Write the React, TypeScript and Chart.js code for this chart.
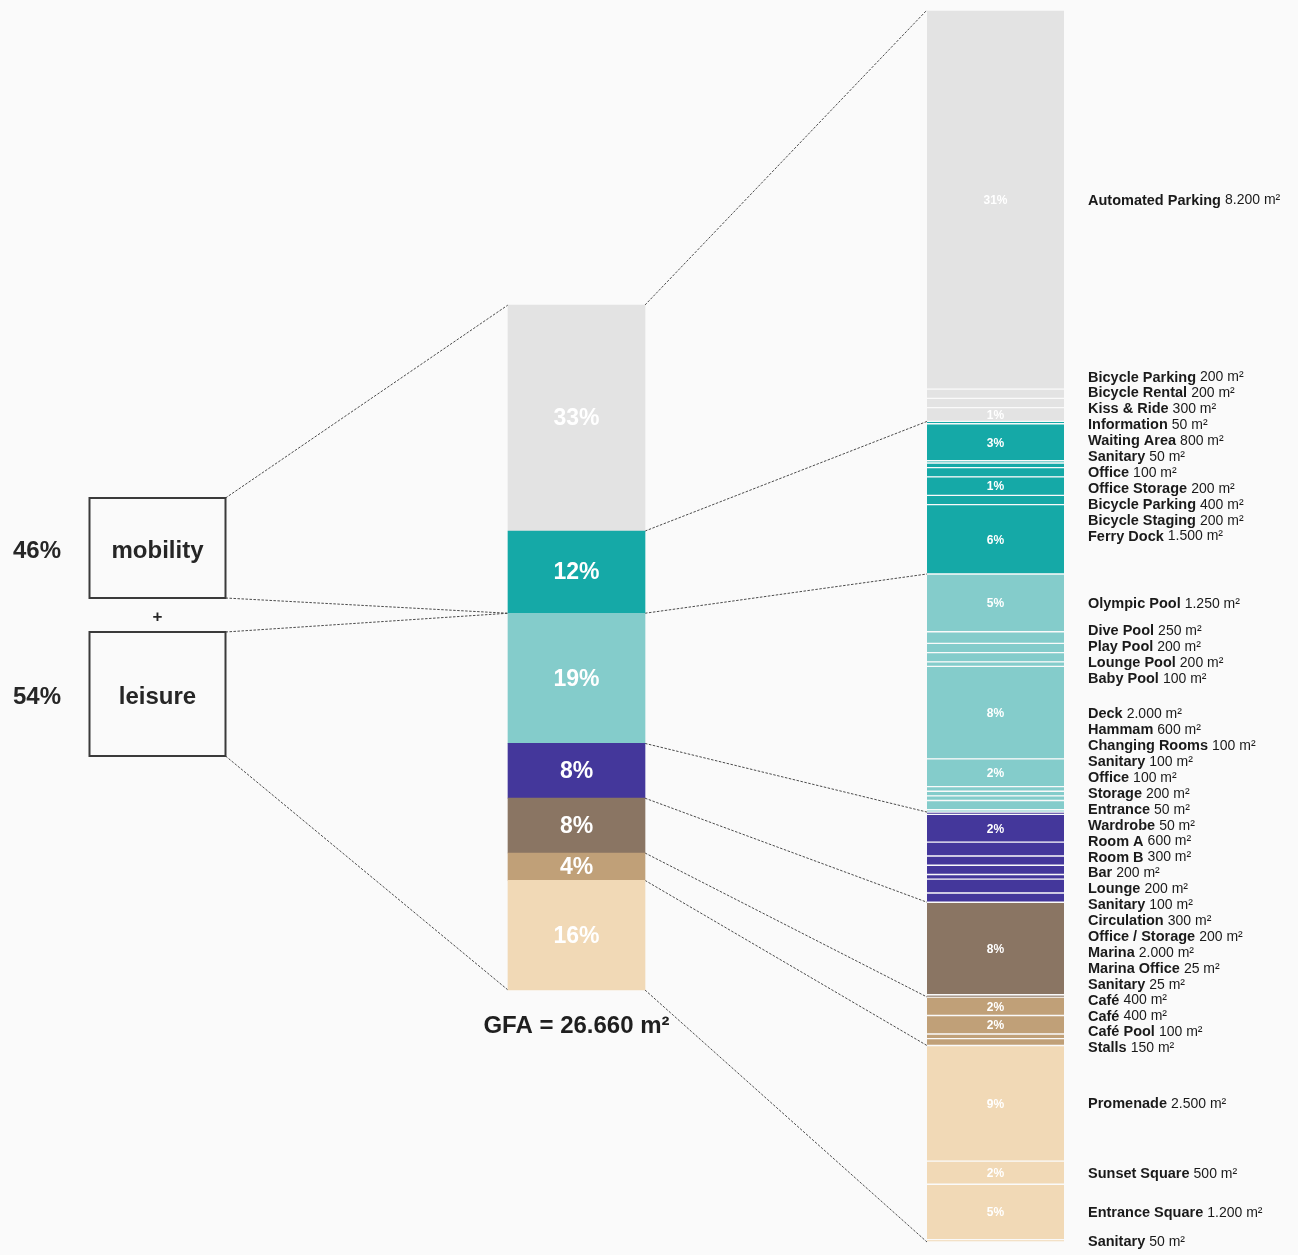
import React, { useEffect, useRef } from "react";
import { Chart, registerables } from "chart.js";

Chart.register(...registerables);

// ---------------- data ----------------
const groupNames = ["Automated parking", "Mobility hub", "Pools", "Club", "Marina", "Cafés", "Public space"];
const groupPercents = [33, 12, 19, 8, 8, 4, 16];
const groupColors = ["#e3e3e3", "#15a9a7", "#84cccb", "#44379b", "#8a7563", "#c0a078", "#f1d9b6"];

const summaryNames = ["mobility", "leisure"];
const summaryPercents = [46, 54];
const summaryGroupCounts = [2, 5];

const gfaTotal = 26660;

const detailNames = [
  "Automated Parking", "Bicycle Parking", "Bicycle Rental", "Kiss & Ride",
  "Information", "Waiting Area", "Sanitary", "Office", "Office Storage", "Bicycle Parking", "Bicycle Staging", "Ferry Dock",
  "Olympic Pool", "Dive Pool", "Play Pool", "Lounge Pool", "Baby Pool", "Deck", "Hammam", "Changing Rooms", "Sanitary", "Office", "Storage", "Entrance",
  "Wardrobe", "Room A", "Room B", "Bar", "Lounge", "Sanitary", "Circulation", "Office / Storage",
  "Marina", "Marina Office", "Sanitary",
  "Café", "Café", "Café Pool", "Stalls",
  "Promenade", "Sunset Square", "Entrance Square", "Sanitary",
];
const detailAreas = [
  8200, 200, 200, 300,
  50, 800, 50, 100, 200, 400, 200, 1500,
  1250, 250, 200, 200, 100, 2000, 600, 100, 100, 100, 200, 50,
  50, 600, 300, 200, 200, 100, 300, 200,
  2000, 25, 25,
  400, 400, 100, 150,
  2500, 500, 1200, 50,
];
const detailGroups = [
  0, 0, 0, 0,
  1, 1, 1, 1, 1, 1, 1, 1,
  2, 2, 2, 2, 2, 2, 2, 2, 2, 2, 2, 2,
  3, 3, 3, 3, 3, 3, 3, 3,
  4, 4, 4,
  5, 5, 5, 5,
  6, 6, 6, 6,
];
const detailPercentLabels = [
  "31%", "", "", "1%",
  "", "3%", "", "", "", "1%", "", "6%",
  "5%", "", "", "", "", "8%", "2%", "", "", "", "", "",
  "", "2%", "", "", "", "", "", "",
  "8%", "", "",
  "2%", "2%", "", "",
  "9%", "2%", "5%", "",
];

// ---------------- layout ----------------
const W = 1298;
const H = 1255;
const BG = "#fafafa";
const FONT = '"Liberation Sans", Arial, Helvetica, sans-serif';
const X_MID_PX = 576.5;
const X_DET_PX = 995.5;
const BAR_W = 137;
const MID_TOP = 305;
const MID_BOTTOM = 990;
const DET_TOP = 10;
const DET_BOTTOM = 1242;
const BOX_W = 136;
const BOX_V = [
  { top: 498, bottom: 598 },
  { top: 632, bottom: 756 },
];
const LABEL_X = 1088;
const LABEL_STEP = 15.9;
const LABEL_MERGE = 1.5;

const fmt = (n: number) => n.toString().replace(/\B(?=(\d{3})+(?!\d))/g, ".");

function cumulative(values: number[]): number[] {
  const out = [0];
  values.forEach((v) => out.push(out[out.length - 1] + v));
  return out;
}

// weighted least-squares cluster layout so labels do not overlap
function layoutLabels(desired: number[], weights: number[], gap: number): number[] {
  const clusters: { n: number; sw: number; swAdj: number }[] = [];
  desired.forEach((d, i) => {
    const w = weights[i];
    clusters.push({ n: 1, sw: w, swAdj: w * d });
    while (clusters.length > 1) {
      const b = clusters[clusters.length - 1];
      const a = clusters[clusters.length - 2];
      const aTop = a.swAdj / a.sw;
      const bTop = b.swAdj / b.sw;
      if (aTop + (a.n - 1) * gap + LABEL_MERGE * gap > bTop) {
        a.swAdj = a.swAdj + b.swAdj - a.n * gap * b.sw;
        a.sw += b.sw;
        a.n += b.n;
        clusters.pop();
      } else break;
    }
  });
  const pos: number[] = [];
  clusters.forEach((c) => {
    const top = c.swAdj / c.sw;
    for (let j = 0; j < c.n; j++) pos.push(top + j * gap);
  });
  return pos;
}

export default function App() {
  const ref = useRef<HTMLCanvasElement>(null);

  useEffect(() => {
    document.body.style.margin = "0";
    document.body.style.background = BG;
    document.body.style.overflow = "hidden";

    const canvas = ref.current!;
    const groupCum = cumulative(groupPercents);
    const detailCum = cumulative(detailAreas);
    const detailTotal = detailCum[detailCum.length - 1];

    // area boundaries of groups in the detail bar
    const groupAreaCum: number[] = [0];
    groupPercents.forEach((_, g) => {
      const s = detailAreas.reduce((acc, a, i) => acc + (detailGroups[i] === g ? a : 0), 0);
      groupAreaCum.push(groupAreaCum[groupAreaCum.length - 1] + s);
    });

    // scale ranges so the chart area maps onto the page
    const xUnit = X_DET_PX - X_MID_PX;
    const xMin = 1 - X_MID_PX / xUnit;
    const xMax = xMin + W / xUnit;
    const pxPerPct = (MID_BOTTOM - MID_TOP) / 100;
    const yMidMin = -MID_TOP / pxPerPct;
    const yMidMax = yMidMin + H / pxPerPct;
    const pxPerM = (DET_BOTTOM - DET_TOP) / detailTotal;
    const yRMin = -DET_TOP / pxPerM;
    const yRMax = yRMin + H / pxPerM;

    const overlay = {
      id: "overlay",
      beforeDatasetsDraw(c: any) {
        const ctx: CanvasRenderingContext2D = c.ctx;
        const xs = c.scales.x;
        const ym = c.scales.yMid;
        const yr = c.scales.yR;
        const midL = xs.getPixelForValue(1) - BAR_W / 2;
        const midR = xs.getPixelForValue(1) + BAR_W / 2;
        const detL = xs.getPixelForValue(2) - BAR_W / 2;
        const boxR = xs.getPixelForValue(0) + BOX_W / 2;
        ctx.save();
        ctx.strokeStyle = "#4a4a4a";
        ctx.lineWidth = 1;
        ctx.setLineDash([2.5, 1.5]);
        const line = (x1: number, y1: number, x2: number, y2: number) => {
          ctx.beginPath();
          ctx.moveTo(x1, y1);
          ctx.lineTo(x2, y2);
          ctx.stroke();
        };
        // mid -> detail
        for (let k = 0; k < groupCum.length; k++) {
          line(midR, ym.getPixelForValue(groupCum[k]), detL, yr.getPixelForValue(groupAreaCum[k]));
        }
        // boxes -> mid
        let g0 = 0;
        summaryGroupCounts.forEach((n, i) => {
          const g1 = g0 + n;
          line(boxR, BOX_V[i].top, midL, ym.getPixelForValue(groupCum[g0]));
          line(boxR, BOX_V[i].bottom, midL, ym.getPixelForValue(groupCum[g1]));
          g0 = g1;
        });
        ctx.restore();
      },
      afterDatasetsDraw(c: any) {
        const ctx: CanvasRenderingContext2D = c.ctx;
        const xs = c.scales.x;
        ctx.save();
        ctx.textBaseline = "middle";
        ctx.textAlign = "center";

        // mid bar percentages
        const midMeta = c.getDatasetMeta(0);
        ctx.fillStyle = "#ffffff";
        ctx.font = `bold 23px ${FONT}`;
        midMeta.data.forEach((bar: any, i: number) => {
          ctx.fillText(`${groupPercents[i]}%`, bar.x, (bar.y + bar.base) / 2 + 1);
        });

        // detail bar percentages
        const detMeta = c.getDatasetMeta(1);
        ctx.font = `bold 12px ${FONT}`;
        detMeta.data.forEach((bar: any, i: number) => {
          const t = detailPercentLabels[i];
          if (t) ctx.fillText(t, bar.x, (bar.y + bar.base) / 2 + 1);
        });

        // detail labels on the right
        const desired = detMeta.data.map((bar: any) => (bar.y + bar.base) / 2);
        const pos = layoutLabels(desired, detailAreas, LABEL_STEP);
        ctx.textAlign = "left";
        ctx.fillStyle = "#1a1a1a";
        detailNames.forEach((name, i) => {
          ctx.font = `bold 14.5px ${FONT}`;
          ctx.fillText(name, LABEL_X, pos[i] + 1);
          const w = ctx.measureText(name + " ").width;
          ctx.font = `14px ${FONT}`;
          ctx.fillText(`${fmt(detailAreas[i])} m²`, LABEL_X + w, pos[i] + 1);
        });

        // summary boxes
        const bx = xs.getPixelForValue(0);
        ctx.textAlign = "center";
        summaryNames.forEach((name, i) => {
          const { top, bottom } = BOX_V[i];
          ctx.strokeStyle = "#3a3a3a";
          ctx.lineWidth = 2;
          ctx.setLineDash([]);
          ctx.strokeRect(bx - BOX_W / 2, top, BOX_W, bottom - top);
          ctx.fillStyle = "#262626";
          ctx.font = `bold 24px ${FONT}`;
          const cy = (top + bottom) / 2;
          ctx.fillText(name, bx, cy + 3);
          ctx.fillText(`${summaryPercents[i]}%`, 37, cy + 3);
        });
        ctx.font = `bold 17px ${FONT}`;
        ctx.fillText("+", bx, (BOX_V[0].bottom + BOX_V[1].top) / 2 + 2);

        // GFA
        ctx.font = `bold 24px ${FONT}`;
        ctx.fillStyle = "#1f1f1f";
        ctx.fillText(`GFA = ${fmt(gfaTotal)} m²`, xs.getPixelForValue(1), MID_BOTTOM + 36);
        ctx.restore();
      },
    };

    const chart = new Chart(canvas, {
      type: "bar",
      data: {
        datasets: [
          {
            label: "Share of GFA",
            data: groupPercents.map((_, i) => ({ x: 1, y: [groupCum[i], groupCum[i + 1]] })) as any,
            backgroundColor: groupColors,
            borderWidth: 0,
            yAxisID: "yMid",
            barThickness: BAR_W,
            grouped: false,
          } as any,
          {
            label: "Programme",
            data: detailAreas.map((_, i) => ({ x: 2, y: [detailCum[i], detailCum[i + 1]] })) as any,
            backgroundColor: detailGroups.map((g) => groupColors[g]),
            borderColor: BG,
            borderWidth: { top: 1, bottom: 1, left: 0, right: 0 },
            borderSkipped: false,
            yAxisID: "yR",
            barThickness: BAR_W,
            grouped: false,
          } as any,
        ],
      },
      options: {
        animation: false,
        responsive: false,
        devicePixelRatio: 1,
        layout: { padding: 0 },
        plugins: { legend: { display: false }, tooltip: { enabled: false }, title: { display: false } },
        scales: {
          x: { type: "linear", min: xMin, max: xMax, display: false, offset: false, bounds: "data", grid: { display: false } },
          yMid: { type: "linear", position: "left", reverse: true, min: yMidMin, max: yMidMax, display: false, bounds: "data" },
          yR: { type: "linear", position: "right", reverse: true, min: yRMin, max: yRMax, display: false, bounds: "data" },
        },
      } as any,
      plugins: [overlay],
    });
    return () => chart.destroy();
  }, []);

  return (
    <div style={{ width: W, height: H, background: BG }}>
      <canvas ref={ref} width={W} height={H} style={{ display: "block", width: W, height: H }} />
    </div>
  );
}
